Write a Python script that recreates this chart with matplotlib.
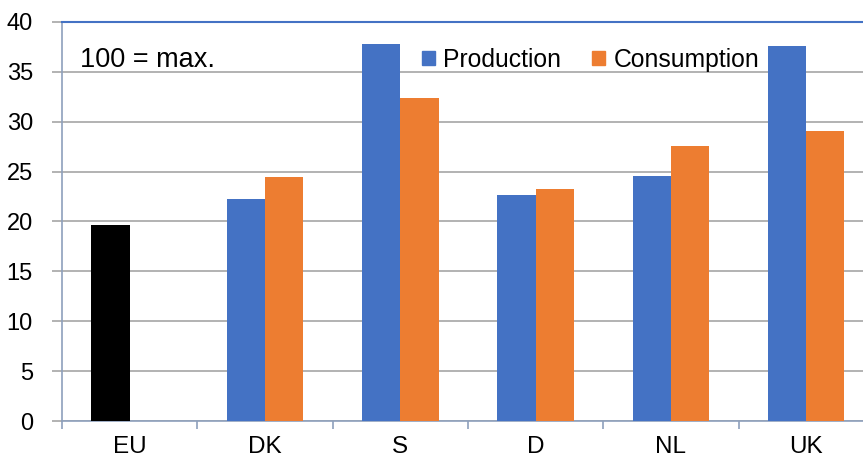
import matplotlib
matplotlib.use('Agg')
import matplotlib.pyplot as plt
from matplotlib.patches import Patch
import numpy as np

countries = ['EU', 'DK', 'S', 'D', 'NL', 'UK']
production = [19.6, 22.3, 37.8, 22.7, 24.6, 37.6]
consumption = [0, 24.5, 32.4, 23.3, 27.6, 29.1]

blue = '#4472C4'
orange = '#ED7D31'
axis_col = '#8EA0BC'

plt.rcParams['font.family'] = ['Liberation Sans', 'DejaVu Sans']

fig = plt.figure(figsize=(8.63, 4.59), dpi=100)
ax = fig.add_axes([62 / 863, 38 / 459, 1 - 62 / 863, 399 / 459])

x = np.arange(len(countries))
w = 0.283
prod_colors = ['black'] + [blue] * (len(countries) - 1)
ax.bar(x - w / 2, production, w, color=prod_colors, zorder=3)
ax.bar(x + w / 2, consumption, w, color=orange, zorder=3)

ax.set_yticks(np.arange(0, 41, 5))
ax.yaxis.grid(True, color='#A6A6A6', linewidth=1.2, zorder=0)

ax.set_xticks(x)
ax.set_xticklabels(countries)
ax.set_xticks(np.arange(-0.5, 6, 1), minor=True)
# limits after ticks, otherwise the minor ticks widen the view
ax.set_ylim(0, 40)
ax.set_xlim(-0.5, 5.42)
ax.tick_params(axis='x', which='major', length=0, pad=11, labelsize=17.5)
ax.tick_params(axis='x', which='minor', length=6, color=axis_col, width=1.2)
ax.tick_params(axis='y', length=7, color='#A6A6A6', width=1.2, labelsize=17, pad=14)

ax.spines['right'].set_visible(False)
ax.spines['top'].set_color(blue)
ax.spines['top'].set_linewidth(1.5)
ax.spines['left'].set_color(axis_col)
ax.spines['left'].set_linewidth(1.2)
ax.spines['bottom'].set_color(axis_col)
ax.spines['bottom'].set_linewidth(1.2)

ax.text(0.022, 0.905, '100 = max.', transform=ax.transAxes, fontsize=19.5,
        va='center', ha='left')

handles = [Patch(color=blue, label='Production'), Patch(color=orange, label='Consumption')]
leg = ax.legend(handles=handles, loc='center left', bbox_to_anchor=(0.45, 0.905),
                ncol=2, frameon=False, fontsize=17.8, handlelength=0.5, handleheight=0.5,
                handletextpad=0.35, columnspacing=1.25, borderaxespad=0, borderpad=0)

plt.savefig('out.png', dpi=100)
